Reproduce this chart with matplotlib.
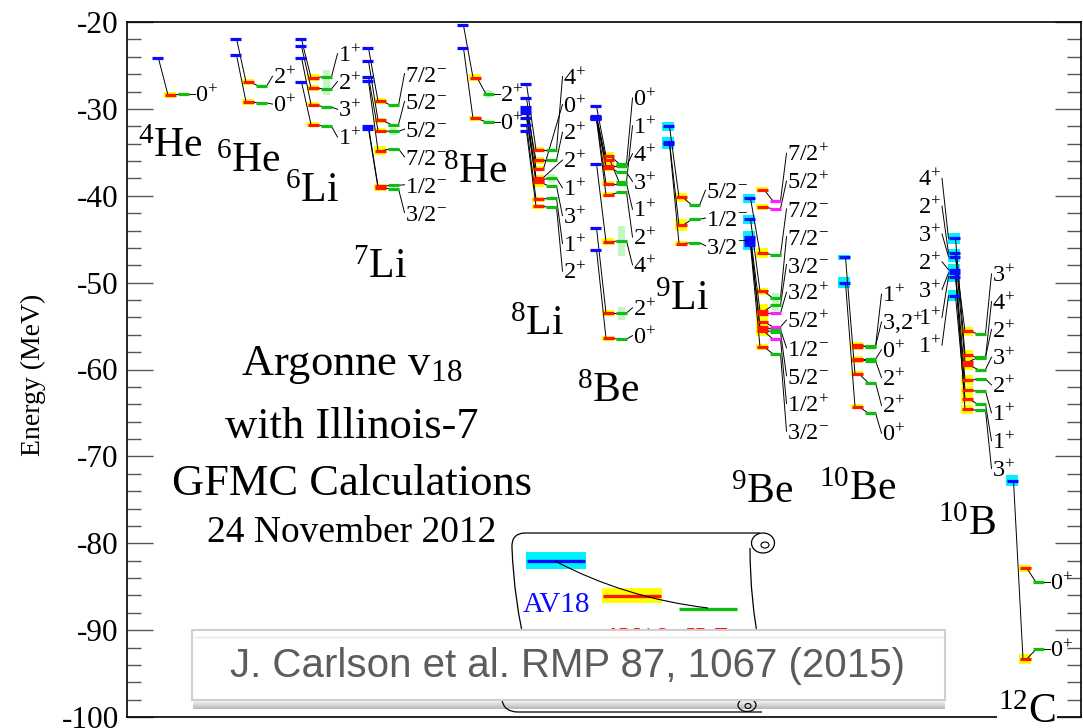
import numpy as np
import matplotlib
matplotlib.use("Agg")
import matplotlib.pyplot as plt
from matplotlib.ticker import MultipleLocator
from matplotlib.patches import Rectangle, Ellipse, PathPatch
from matplotlib.path import Path

N = np.nan

# ---------------------------------------------------------------- data
NUCLEUS_NAMES = ["$^{4}$He", "$^{6}$He", "$^{6}$Li", "$^{7}$Li", "$^{8}$He", "$^{8}$Li",
                 "$^{8}$Be", "$^{9}$Li", "$^{9}$Be", "$^{10}$Be", "$^{10}$B", "$^{12}$C"]

HE4_STATES = ["0+"]
HE4_AV18 = [-24.2]
HE4_IL7 = [-28.4]
HE4_EXP = [-28.3]
HE4_AV18_ERR = [0]
HE4_IL7_ERR = [0.3]
HE4_EXP_W = [0]

HE6_STATES = ["2+", "0+"]
HE6_AV18 = [-21.9, -23.8]
HE6_IL7 = [-26.9, -29.2]
HE6_EXP = [-27.4, -29.3]
HE6_AV18_ERR = [0, 0]
HE6_IL7_ERR = [0.3, 0.3]
HE6_EXP_W = [0, 0]

LI6_STATES = ["1+", "2+", "3+", "1+"]
LI6_AV18 = [-22.0, -22.8, -24.1, -26.9]
LI6_IL7 = [-26.4, -27.6, -29.5, -31.8]
LI6_EXP = [-26.3, -27.7, -29.8, -32.0]
LI6_AV18_ERR = [0, 0, 0, 0]
LI6_IL7_ERR = [0.4, 0.3, 0.3, 0.3]
LI6_EXP_W = [1.5, 1.3, 0, 0]

LI7_STATES = ["7/2-", "5/2-", "5/2-", "7/2-", "1/2-", "3/2-"]
LI7_AV18 = [-23.0, -24.5, -26.3, -26.8, -32.0, -32.3]
LI7_IL7 = [-29.1, -31.3, -32.5, -34.8, -38.9, -39.1]
LI7_EXP = [-29.6, -31.8, -32.6, -34.6, -38.8, -39.2]
LI7_AV18_ERR = [0, 0, 0, 0, 0, 0]
LI7_IL7_ERR = [0.3, 0.3, 0.3, 0.5, 0.3, 0.3]
LI7_EXP_W = [0.4, 0.1, 0.9, 0, 0, 0]

HE8_STATES = ["2+", "0+"]
HE8_AV18 = [-20.4, -23.0]
HE8_IL7 = [-26.4, -31.1]
HE8_EXP = [-28.3, -31.5]
HE8_AV18_ERR = [0, 0]
HE8_IL7_ERR = [0.4, 0.3]
HE8_EXP_W = [0.9, 0]

LI8_STATES = ["4+", "0+", "2+", "2+", "1+", "3+", "1+", "2+"]
LI8_AV18 = [-27.1, -28.7, -29.8, -30.1, -30.5, -31.0, -31.9, -32.6]
LI8_IL7 = [-34.7, -36.9, -35.9, -37.9, -38.2, -38.4, -40.4, -41.2]
LI8_EXP = [-34.7, N, -35.9, N, -38.0, -38.9, -40.3, -41.3]
LI8_AV18_ERR = [0, 0, 0, 0, 0, 0, 0, 0]
LI8_IL7_ERR = [0.3, 0.3, 0.4, 0.3, 0.6, 0.6, 0.3, 0.3]
LI8_EXP_W = [0, 0, 0, 0, 1.1, 0, 0, 0]

BE8_STATES = ["0+", "1+", "4+", "3+", "1+", "2+", "4+", "2+", "0+"]
BE8_AV18 = [-29.7, -30.8, -30.9, -31.0, -31.1, -31.2, -36.3, -43.7, -46.2]
BE8_IL7 = [-35.4, -35.9, -36.6, -36.8, -38.6, -39.9, -45.3, -53.5, -56.4]
BE8_EXP = [-36.3, -38.4, -36.6, -37.3, -38.6, -39.6, -45.2, -53.5, -56.5]
BE8_AV18_ERR = [0, 0, 0, 0, 0, 0, 0, 0, 0]
BE8_IL7_ERR = [0.4, 0.4, 0.4, 0.4, 0.3, 0.3, 0.4, 0.3, 0.3]
BE8_EXP_W = [0, 0, 0.7, 0, 0, 0, 3.5, 1.5, 0]

LI9_STATES = ["5/2-", "1/2-", "3/2-"]
LI9_AV18 = [-32.0, -33.8, -34.0]
LI9_IL7 = [-40.2, -43.4, -45.5]
LI9_EXP = [-41.1, -42.7, -45.4]
LI9_AV18_ERR = [0.5, 0.6, 0.6]
LI9_IL7_ERR = [0.5, 0.7, 0.3]
LI9_EXP_W = [0, 0, 0]

BE9_STATES = ["7/2+", "5/2+", "7/2-", "7/2-", "3/2-", "3/2+", "5/2+", "1/2-", "5/2-", "1/2+", "3/2-"]
BE9_AV18 = [N, N, -40.3, -42.7, -44.7, N, N, -45.0, -45.3, N, -45.7]
BE9_IL7 = [-39.3, -41.3, -46.6, -51.0, -53.3, -53.6, -54.5, -55.1, -55.4, -55.6, -57.4]
BE9_EXP = [-40.6, -41.5, -46.8, -51.8, -52.6, -53.5, -55.1, -55.4, -55.7, -56.5, -58.2]
BE9_AV18_ERR = [0, 0, 0.5, 0.5, 0.6, 0, 0, 0.6, 0.6, 0, 0.6]
BE9_IL7_ERR = [0.3, 0.3, 0.6, 0.4, 0.8, 0.8, 0.8, 0.6, 0.6, 0.6, 0.3]
BE9_EXP_W = [0, 0, 0, 1.2, 1.3, 0, 0, 0, 0.3, 0, 0]

BE10_STATES = ["1+", "3,2+", "0+", "2+", "2+", "0+"]
BE10_AV18 = [N, N, N, N, -47.1, -50.0]
BE10_IL7 = [-57.2, -57.4, -58.8, -58.9, -60.5, -64.3]
BE10_EXP = [-57.4, -57.3, -58.8, -59.0, -61.5, -65.0]
BE10_AV18_ERR = [0, 0, 0, 0, 0.3, 0.6]
BE10_IL7_ERR = [0.4, 0.3, 0.3, 0.3, 0.3, 0.3]
BE10_EXP_W = [0, 0, 0, 0, 0, 0]

B10_STATES = ["3+", "4+", "2+", "3+", "2+", "1+", "1+", "3+"]
B10_AV18 = [-47.0, -44.9, -46.6, N, -48.5, -49.3, -51.5, -48.9]
B10_IL7 = [-55.6, -58.3, -59.1, -59.5, -61.2, -62.4, -63.4, -64.6]
B10_EXP = [-55.9, -58.7, -58.6, -60.0, -61.1, -62.5, -64.0, -64.7]
B10_AV18_ERR = [0.6, 0.6, 0.5, 0, 0.6, 0.6, 0.6, 0.6]
B10_IL7_ERR = [0.5, 0.6, 0.5, 0.5, 0.6, 0.5, 0.5, 0.5]
B10_EXP_W = [0, 0, 0, 0, 0, 0, 0, 0]

C12_STATES = ["0+", "0+"]
C12_AV18 = [N, -72.8]
C12_IL7 = [-82.9, -93.3]
C12_EXP = [-84.5, -92.2]
C12_AV18_ERR = [0, 0.6]
C12_IL7_ERR = [0.4, 0.6]
C12_EXP_W = [0, 0]

Y_TICKS = [-100, -90, -80, -70, -60, -50, -40, -30, -20]
TITLE_LINES = ["Argonne v$_{18}$", "with Illinois-7", "GFMC Calculations"]
DATE_LINE = "24 November 2012"
CITATION = "J. Carlson et al. RMP 87, 1067 (2015)"

STATES = [HE4_STATES, HE6_STATES, LI6_STATES, LI7_STATES, HE8_STATES, LI8_STATES,
          BE8_STATES, LI9_STATES, BE9_STATES, BE10_STATES, B10_STATES, C12_STATES]
AV18 = [HE4_AV18, HE6_AV18, LI6_AV18, LI7_AV18, HE8_AV18, LI8_AV18,
        BE8_AV18, LI9_AV18, BE9_AV18, BE10_AV18, B10_AV18, C12_AV18]
IL7 = [HE4_IL7, HE6_IL7, LI6_IL7, LI7_IL7, HE8_IL7, LI8_IL7,
       BE8_IL7, LI9_IL7, BE9_IL7, BE10_IL7, B10_IL7, C12_IL7]
EXP = [HE4_EXP, HE6_EXP, LI6_EXP, LI7_EXP, HE8_EXP, LI8_EXP,
       BE8_EXP, LI9_EXP, BE9_EXP, BE10_EXP, B10_EXP, C12_EXP]
AV18_ERR = [HE4_AV18_ERR, HE6_AV18_ERR, LI6_AV18_ERR, LI7_AV18_ERR, HE8_AV18_ERR, LI8_AV18_ERR,
            BE8_AV18_ERR, LI9_AV18_ERR, BE9_AV18_ERR, BE10_AV18_ERR, B10_AV18_ERR, C12_AV18_ERR]
IL7_ERR = [HE4_IL7_ERR, HE6_IL7_ERR, LI6_IL7_ERR, LI7_IL7_ERR, HE8_IL7_ERR, LI8_IL7_ERR,
           BE8_IL7_ERR, LI9_IL7_ERR, BE9_IL7_ERR, BE10_IL7_ERR, B10_IL7_ERR, C12_IL7_ERR]
EXP_W = [HE4_EXP_W, HE6_EXP_W, LI6_EXP_W, LI7_EXP_W, HE8_EXP_W, LI8_EXP_W,
         BE8_EXP_W, LI9_EXP_W, BE9_EXP_W, BE10_EXP_W, B10_EXP_W, C12_EXP_W]

# ---------------------------------------------------------------- style / layout
plt.rcParams['font.family'] = ['Liberation Serif', 'DejaVu Serif']
plt.rcParams['mathtext.fontset'] = 'custom'
plt.rcParams['mathtext.rm'] = 'Liberation Serif'
plt.rcParams['mathtext.it'] = 'Liberation Serif:italic'
plt.rcParams['mathtext.bf'] = 'Liberation Serif:bold'
plt.rcParams['axes.unicode_minus'] = False

BLUE = '#0a0aff'
CYAN = '#00f2ff'
RED = '#ff1800'
YELLOW = '#ffff00'
GREEN = '#12bd12'
MAGENTA = '#ff1cff'
LIGHTGREEN = '#c4f6c4'

W, H = 1083, 728
PX_PER_MEV = 8.6875
AX_L, AX_R, AX_T, AX_B = 127, 1081, 22, 717


def py2e(py):
    return -20.0 - (py - AX_T) / PX_PER_MEV


COLUMN_X = [157, 235, 300, 367, 462, 525, 595, 668, 749, 844, 954, 1012]
NAME_POS = [(170, 157), (248, 172), (312, 202), (380, 278), (475, 183), (537, 335),
            (608, 402), (682, 310), (762, 503), (858, 500), (967, 535), (1027, 723)]
BLUE_SIDE_LABELS = {10}
HALF = 5.5
DX = 13
GAP = 3.2
LABEL_FS = 17.5
DIGIT_MID = 0.93


def fmt(lbl):
    core, sgn = lbl[:-1], lbl[-1]
    return core + r"$^{" + ('+' if sgn == '+' else '-') + r"}$"


def spread(anchors, gap):
    n = len(anchors)
    clusters = [[i] for i in range(n)]
    pos = list(anchors)
    while True:
        for c in clusters:
            center = float(np.mean([anchors[i] for i in c]))
            if len(c) > 1:
                center += 0.5
            for k, i in enumerate(c):
                pos[i] = center + gap * ((len(c) - 1) / 2.0 - k)
        merged = False
        for j in range(len(clusters) - 1):
            a = clusters[j][-1]
            b = clusters[j + 1][0]
            if pos[a] - pos[b] < gap - 1e-9:
                clusters[j] = clusters[j] + clusters[j + 1]
                del clusters[j + 1]
                merged = True
                break
        if not merged:
            break
    return pos


fig = plt.figure(figsize=(W / 100, H / 100), dpi=100)
ax = fig.add_axes([AX_L / W, 1 - AX_B / H, (AX_R - AX_L) / W, (AX_B - AX_T) / H])
ax.set_xlim(AX_L, AX_R)
ax.set_ylim(-100, -20)

for k in range(len(STATES)):
    st = STATES[k]
    b = np.array(AV18[k], float)
    r = np.array(IL7[k], float)
    g = np.array(EXP[k], float)
    be = np.array(AV18_ERR[k], float)
    re_ = np.maximum(np.array(IL7_ERR[k], float), 0.28)
    gw = np.array(EXP_W[k], float)
    xb = COLUMN_X[k]
    xr = xb + DX
    xg = xb + 2 * DX
    xl = xb + 38
    gs_par = st[-1][-1]

    # uncertainty bands / widths
    m = ~np.isnan(b) & (be > 0)
    ax.bar(np.full(m.sum(), xb), 2 * be[m], bottom=b[m] - be[m], width=12.5,
           color=CYAN, zorder=2, linewidth=0)
    m = ~np.isnan(r)
    ax.bar(np.full(m.sum(), xr), 2 * re_[m], bottom=r[m] - re_[m], width=12.5,
           color=YELLOW, zorder=2, linewidth=0)
    m = ~np.isnan(g) & (gw > 0)
    ax.bar(np.full(m.sum(), xg), gw[m], bottom=g[m] - gw[m] / 2, width=7,
           color=LIGHTGREEN, zorder=1.5, linewidth=0)

    # connecting lines
    for i in range(len(st)):
        if not np.isnan(b[i]) and not np.isnan(r[i]):
            ax.plot([xb + 1.5, xr - 2], [b[i], r[i]], color='k', lw=0.7, zorder=3)
        if not np.isnan(r[i]) and not np.isnan(g[i]):
            ax.plot([xr + 2, xg - 2], [r[i], g[i]], color='k', lw=0.7, zorder=3)

    # level bars
    m = ~np.isnan(b)
    ax.hlines(b[m], xb - HALF, xb + HALF, colors=BLUE, lw=2.3, zorder=4)
    ax.hlines(r, xr - HALF, xr + HALF, colors=RED, lw=2.3, zorder=4)
    gcol = [MAGENTA if s[-1] != gs_par else GREEN for s in st]
    m = ~np.isnan(g)
    ax.hlines(g[m], xg - HALF, xg + HALF, colors=[c for c, mm in zip(gcol, m) if mm],
              lw=2.3, zorder=4)

    # spin-parity labels (experiment side)
    anchors = [g[i] if not np.isnan(g[i]) else r[i] for i in range(len(st))]
    xa = [xg + HALF if not np.isnan(g[i]) else xr + HALF for i in range(len(st))]
    pos = spread(anchors, GAP)
    for i, s in enumerate(st):
        ax.plot([xa[i], xl - 0.5], [anchors[i], pos[i]], color='k', lw=0.7, zorder=3)
        ax.text(xl, pos[i] - DIGIT_MID, fmt(s), fontsize=LABEL_FS, ha='left',
                va='baseline', zorder=5)

    # spin-parity labels on the AV18 side
    if k in BLUE_SIDE_LABELS:
        idx = [i for i in range(len(st)) if not np.isnan(b[i])]
        idx.sort(key=lambda i: -b[i])
        pos = spread([b[i] for i in idx], GAP)
        for p, i in zip(pos, idx):
            ax.plot([xb - 12, xb - HALF], [p, b[i]], color='k', lw=0.7, zorder=3)
            ax.text(xb - 12.5, p - DIGIT_MID, fmt(st[i]), fontsize=LABEL_FS, ha='right',
                    va='baseline', zorder=5)

    # nucleus name
    nx, ny = NAME_POS[k]
    kw = {}
    if k == len(STATES) - 1:
        kw = dict(bbox=dict(facecolor='white', edgecolor='none', pad=0.5))
    ax.text(nx, py2e(ny), NUCLEUS_NAMES[k], fontsize=30, ha='center', va='baseline',
            zorder=6, clip_on=False, **kw)

# title block
for txt, by in zip(TITLE_LINES, [375, 438, 495]):
    ax.text(352, py2e(by), txt, fontsize=32, ha='center', va='baseline', zorder=5)
ax.text(352, py2e(542), DATE_LINE, fontsize=27, ha='center', va='baseline', zorder=5)

# legend scroll
def P(px, py):
    return (px, py2e(py))

scroll = Path([P(526, 650), P(514, 600), P(512, 548), P(511, 534), P(524, 533), P(760, 533)],
              [Path.MOVETO, Path.CURVE3, Path.CURVE3, Path.CURVE3, Path.CURVE3, Path.LINETO])
ax.add_patch(PathPatch(scroll, facecolor='none', edgecolor='k', lw=0.9, zorder=6))
right = Path([P(750, 548), P(750, 600), P(760, 650)], [Path.MOVETO, Path.CURVE3, Path.CURVE3])
ax.add_patch(PathPatch(right, facecolor='none', edgecolor='k', lw=0.9, zorder=6))
bottom = Path([P(502, 700), P(504, 712), P(518, 712), P(762, 712)],
              [Path.MOVETO, Path.CURVE3, Path.CURVE3, Path.LINETO])
ax.add_patch(PathPatch(bottom, facecolor='none', edgecolor='k', lw=0.9, zorder=10.5))
ax.add_patch(Ellipse(P(763, 543), 23, 20 / PX_PER_MEV, facecolor='white', edgecolor='k',
                     lw=0.9, zorder=6))
ax.add_patch(Ellipse(P(765, 545), 8, 6 / PX_PER_MEV, facecolor='none', edgecolor='k',
                     lw=0.8, zorder=6))
ax.add_patch(Ellipse(P(747, 705), 18, 13 / PX_PER_MEV, facecolor='none', edgecolor='k',
                     lw=0.9, zorder=10.5))
ax.add_patch(Ellipse(P(748, 706), 6, 5 / PX_PER_MEV, facecolor='none', edgecolor='k',
                     lw=0.8, zorder=10.5))

ax.add_patch(Rectangle(P(526, 569), 60, 17 / PX_PER_MEV, facecolor=CYAN, edgecolor='none', zorder=7))
ax.plot([527, 585], [py2e(561), py2e(561)], color=BLUE, lw=2.4, zorder=8, solid_capstyle='butt')
ax.add_patch(Rectangle(P(602, 603), 60, 15 / PX_PER_MEV, facecolor=YELLOW, edgecolor='none', zorder=7))
ax.plot([603, 661], [py2e(595.5), py2e(595.5)], color=RED, lw=2.4, zorder=8, solid_capstyle='butt')
ax.plot([679, 737], [py2e(608.5), py2e(608.5)], color=GREEN, lw=2.4, zorder=8, solid_capstyle='butt')
curve = Path([P(555, 561), P(625, 598), P(708, 608)], [Path.MOVETO, Path.CURVE3, Path.CURVE3])
ax.add_patch(PathPatch(curve, facecolor='none', edgecolor='k', lw=0.8, zorder=9))
ax.text(523, py2e(612), "AV18", color=BLUE, fontsize=21, ha='left', va='baseline', zorder=8)
ax.text(603, py2e(647), "AV18+IL7", color=RED, fontsize=21, ha='left', va='baseline', zorder=8)

# citation box
grad = np.linspace(0.98, 0.72, 40)[:, None] * np.ones((1, 10))
ax.imshow(grad, extent=[193, 945, py2e(709), py2e(700)], aspect='auto', cmap='gray',
          vmin=0, vmax=1, zorder=10, interpolation='bilinear')
ax.add_patch(Rectangle(P(192, 700), 753, 70 / PX_PER_MEV, facecolor='white',
                       edgecolor='#cfcfcf', lw=1.5, zorder=11))
ax.plot([194, 943], [py2e(637), py2e(637)], color='#e6e6e6', lw=1.0, zorder=11.5)
ax.text(567, py2e(677), CITATION, fontsize=29, family=['Liberation Sans', 'DejaVu Sans'],
        color='#5c5c5c', ha='center', va='baseline', zorder=12)

ax.set_xlim(AX_L, AX_R)
ax.set_ylim(-100, -20)

# axes styling
ax.set_xticks([])
ax.set_yticks(Y_TICKS)
ax.set_yticklabels([str(t) for t in Y_TICKS])
ax.yaxis.set_minor_locator(MultipleLocator(2))
ax.tick_params(axis='y', which='major', direction='in', length=19, width=1.0, color='#555555',
               left=True, right=True, labelsize=22.5, pad=6)
ax.tick_params(axis='y', which='minor', direction='in', length=10, width=1.0, color='#555555',
               left=True, right=True)
for sp in ax.spines.values():
    sp.set_linewidth(1.2)

fig.text(33 / W, 1 - 375 / H, "Energy (MeV)", rotation=90, fontsize=20, ha='center', va='center')

fig.savefig("out.png", dpi=100)
